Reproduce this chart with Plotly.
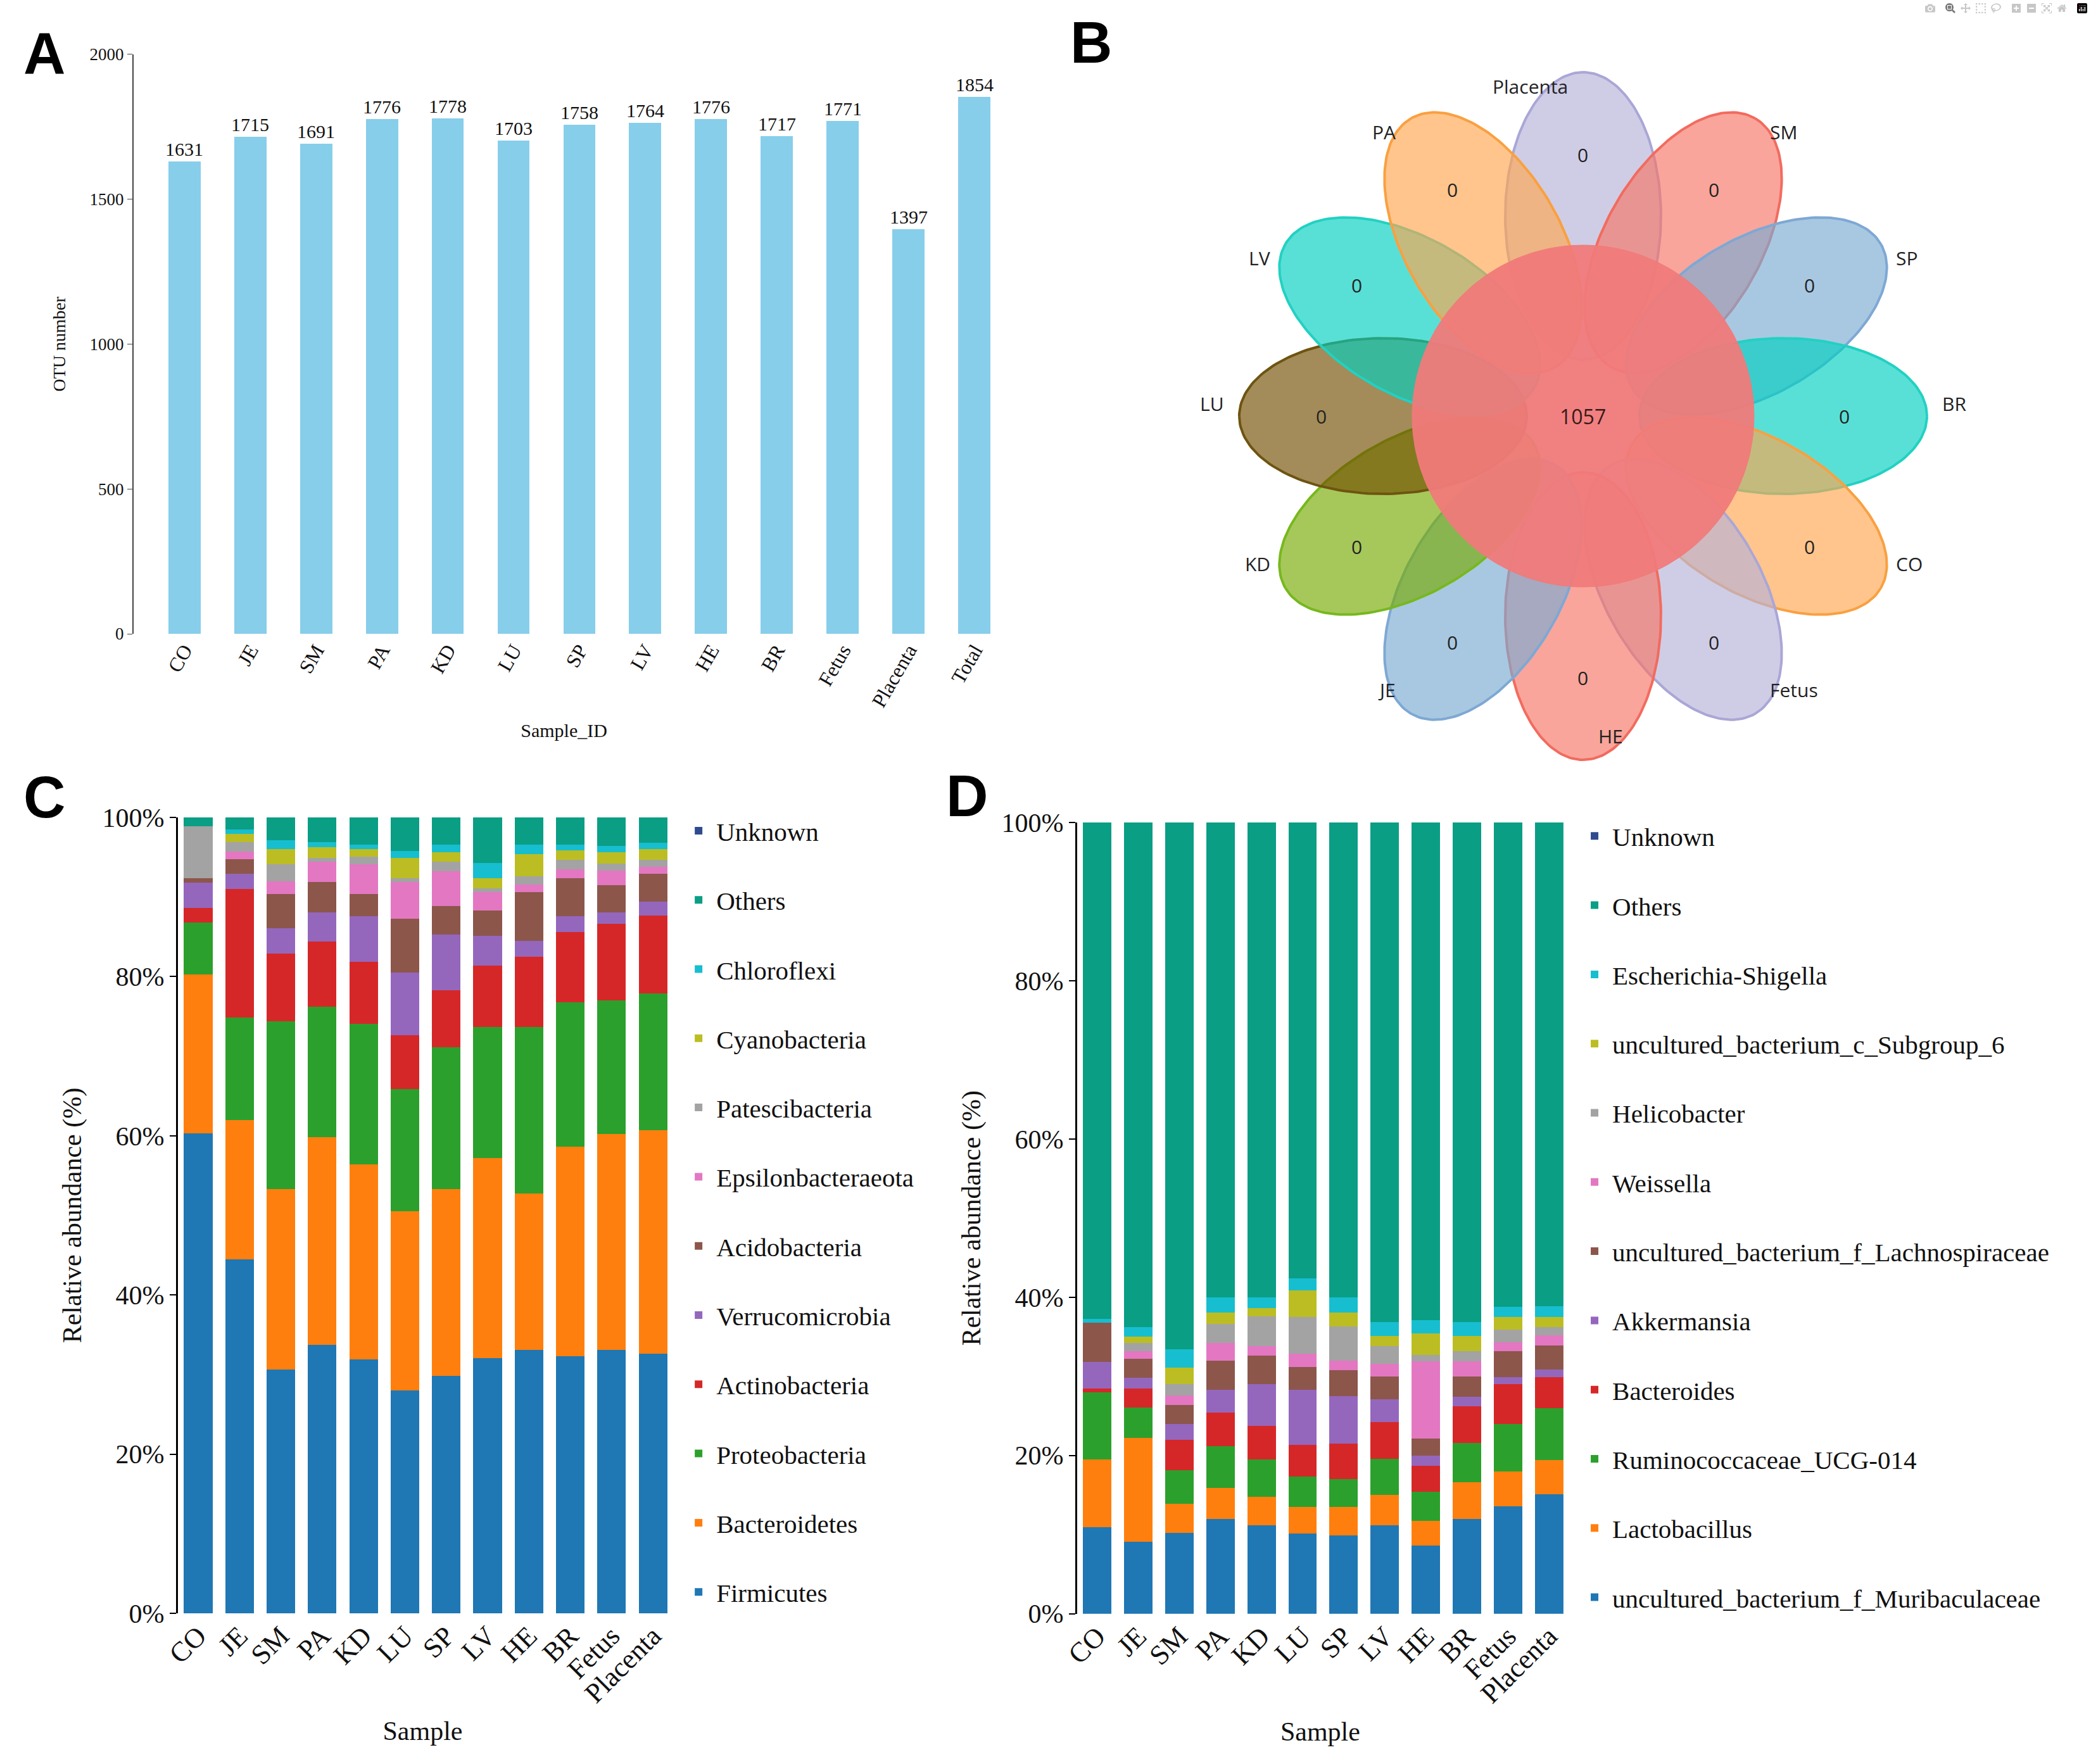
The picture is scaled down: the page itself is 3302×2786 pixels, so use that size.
import math
import plotly.graph_objects as go

# ---------------- data ----------------
# Panel A: OTU numbers
otu_samples = ["CO", "JE", "SM", "PA", "KD", "LU", "SP", "LV", "HE", "BR", "Fetus", "Placenta", "Total"]
otu_counts = [1631, 1715, 1691, 1776, 1778, 1703, 1758, 1764, 1776, 1717, 1771, 1397, 1854]

# Panel B: flower Venn
venn_groups = ["Placenta", "SM", "SP", "BR", "CO", "Fetus", "HE", "JE", "KD", "LU", "LV", "PA"]
venn_unique = [0, 0, 0, 0, 0, 0, 0, 0, 0, 0, 0, 0]
venn_core = 1057

# Panels C and D: samples
samples = ["CO", "JE", "SM", "PA", "KD", "LU", "SP", "LV", "HE", "BR", "Fetus", "Placenta"]

# Panel C: phylum relative abundance (%), bottom -> top
Firmicutes        = [60.3, 44.5, 30.6, 33.7, 31.9, 28.0, 29.8, 32.1, 33.1, 32.3, 33.1, 32.6]
Bacteroidetes     = [20.0, 17.5, 22.7, 26.1, 24.5, 22.5, 23.5, 25.1, 19.65, 26.3, 27.1, 28.1]
Proteobacteria    = [6.5, 12.9, 21.1, 16.45, 17.7, 15.4, 17.8, 16.5, 20.95, 18.2, 16.8, 17.2]
Actinobacteria    = [1.8, 16.1, 8.5, 8.15, 7.8, 6.7, 7.2, 7.7, 8.8, 8.8, 9.6, 9.8]
Verrucomicrobia   = [3.2, 1.9, 3.2, 3.7, 5.7, 7.9, 6.95, 3.7, 2.0, 2.0, 1.5, 1.7]
Acidobacteria     = [0.6, 1.85, 4.3, 3.8, 2.8, 6.8, 3.65, 3.2, 6.1, 4.8, 3.4, 3.5]
Epsilonbacteraeota = [0.0, 0.95, 1.6, 2.5, 3.7, 4.6, 4.35, 2.3, 1.0, 1.1, 1.8, 0.9]
Patescibacteria   = [6.5, 1.2, 2.1, 0.5, 1.0, 0.5, 1.15, 0.5, 1.0, 1.2, 0.9, 0.9]
Cyanobacteria     = [0.0, 1.0, 1.9, 1.4, 0.9, 2.5, 1.2, 1.3, 2.8, 1.2, 1.4, 1.3]
Chloroflexi       = [0.0, 0.6, 1.1, 0.6, 0.6, 0.9, 1.0, 1.85, 1.2, 0.7, 0.8, 0.8]
Others_phylum     = [1.1, 1.5, 2.9, 3.1, 3.4, 4.2, 3.4, 5.75, 3.4, 3.4, 3.6, 3.2]
Unknown_phylum    = [0, 0, 0, 0, 0, 0, 0, 0, 0, 0, 0, 0]

phylum_names = ["Firmicutes", "Bacteroidetes", "Proteobacteria", "Actinobacteria", "Verrucomicrobia",
                "Acidobacteria", "Epsilonbacteraeota", "Patescibacteria", "Cyanobacteria",
                "Chloroflexi", "Others", "Unknown"]
phylum_values = [Firmicutes, Bacteroidetes, Proteobacteria, Actinobacteria, Verrucomicrobia,
                 Acidobacteria, Epsilonbacteraeota, Patescibacteria, Cyanobacteria,
                 Chloroflexi, Others_phylum, Unknown_phylum]

# Panel D: genus relative abundance (%), bottom -> top
Muribaculaceae   = [10.9, 9.1, 10.2, 12.0, 11.2, 10.1, 9.9, 11.2, 8.6, 12.0, 13.6, 15.1]
Lactobacillus    = [8.6, 13.1, 3.7, 3.9, 3.55, 3.4, 3.6, 3.8, 3.1, 4.65, 4.4, 4.3]
Ruminococcaceae  = [8.5, 3.9, 4.2, 5.3, 4.75, 3.8, 3.5, 4.6, 3.7, 4.95, 6.0, 6.6]
Bacteroides      = [0.5, 2.4, 3.9, 4.2, 4.2, 4.0, 4.5, 4.6, 3.3, 4.6, 5.0, 3.9]
Akkermansia      = [3.3, 1.3, 2.0, 2.9, 5.3, 7.0, 6.0, 2.9, 1.3, 1.2, 0.9, 1.0]
Lachnospiraceae  = [5.0, 2.4, 2.4, 3.7, 3.6, 2.9, 3.3, 2.9, 2.1, 2.6, 3.3, 3.0]
Weissella        = [0.0, 1.0, 1.2, 2.2, 1.2, 1.7, 1.2, 1.6, 9.8, 1.9, 1.1, 1.3]
Helicobacter     = [0.0, 1.0, 1.4, 2.4, 3.8, 4.6, 4.3, 2.2, 0.8, 1.3, 1.6, 1.0]
Subgroup_6       = [0.0, 0.8, 2.1, 1.5, 1.0, 3.4, 1.8, 1.3, 2.7, 1.9, 1.6, 1.3]
Escherichia      = [0.5, 1.2, 2.3, 1.9, 1.4, 1.5, 1.9, 1.8, 1.7, 1.8, 1.3, 1.4]
Others_genus     = [62.7, 63.8, 66.6, 60.0, 60.0, 57.6, 60.0, 63.1, 62.9, 63.1, 61.2, 61.1]
Unknown_genus    = [0, 0, 0, 0, 0, 0, 0, 0, 0, 0, 0, 0]

genus_names = ["uncultured_bacterium_f_Muribaculaceae", "Lactobacillus", "Ruminococcaceae_UCG-014",
               "Bacteroides", "Akkermansia", "uncultured_bacterium_f_Lachnospiraceae", "Weissella",
               "Helicobacter", "uncultured_bacterium_c_Subgroup_6", "Escherichia-Shigella",
               "Others", "Unknown"]
genus_values = [Muribaculaceae, Lactobacillus, Ruminococcaceae, Bacteroides, Akkermansia,
                Lachnospiraceae, Weissella, Helicobacter, Subgroup_6, Escherichia,
                Others_genus, Unknown_genus]

# ---------------- style ----------------
W, H = 3302, 2786
SERIF = "Liberation Serif, Times New Roman, serif"
SANS = "Open Sans, Liberation Sans, sans-serif"
stack_colors = ["#1f77b4", "#ff7f0e", "#2ca02c", "#d62728", "#9467bd", "#8c564b",
                "#e377c2", "#a3a3a3", "#bcbd22", "#17becf", "#0a9e85", "#2f4b8e"]

petal_style = {
    "Placenta": ("rgba(181,178,217,0.65)", "#aaa6d6"),
    "Fetus": ("rgba(181,178,217,0.65)", "#aaa6d6"),
    "SM": ("rgba(246,117,101,0.65)", "#f26b5e"),
    "HE": ("rgba(246,117,101,0.65)", "#f26b5e"),
    "SP": ("rgba(121,171,211,0.65)", "#7ea8d4"),
    "JE": ("rgba(121,171,211,0.65)", "#7ea8d4"),
    "BR": ("rgba(0,208,192,0.65)", "#22d1c2"),
    "LV": ("rgba(0,208,192,0.65)", "#22d1c2"),
    "CO": ("rgba(255,166,78,0.65)", "#f9a040"),
    "PA": ("rgba(255,166,78,0.65)", "#f9a040"),
    "KD": ("rgba(118,171,2,0.65)", "#77b81e"),
    "LU": ("rgba(114,78,0,0.65)", "#6e5410"),
}

fig = go.Figure()

# ---------------- Panel A ----------------
fig.add_trace(go.Bar(
    x=otu_samples, y=otu_counts, marker=dict(color="#87ceeb", line=dict(width=0)),
    width=0.49, text=[str(v) for v in otu_counts], textposition="outside",
    textfont=dict(family=SERIF, size=30, color="#111"), constraintext="none",
    cliponaxis=False, showlegend=False, xaxis="x", yaxis="y", hoverinfo="x+y"))

# ---------------- Panel C ----------------
n_tax = len(phylum_names)
for i, (name, vals, col) in enumerate(zip(phylum_names, phylum_values, stack_colors)):
    fig.add_trace(go.Bar(
        x=samples, y=vals, name=name, marker=dict(color=col, line=dict(width=0)),
        width=0.69, xaxis="x2", yaxis="y2", legend="legend", legendgroup="c_" + name,
        legendrank=100 + n_tax - i))

# ---------------- Panel D ----------------
for i, (name, vals, col) in enumerate(zip(genus_names, genus_values, stack_colors)):
    fig.add_trace(go.Bar(
        x=samples, y=vals, name=name, marker=dict(color=col, line=dict(width=0)),
        width=0.69, xaxis="x3", yaxis="y3", legend="legend2", legendgroup="d_" + name,
        legendrank=100 + n_tax - i))

# ---------------- Panel B (flower Venn) ----------------
PETAL_D, PETAL_A, PETAL_B = 316, 227, 123
CORE_R = 270
NUM_R = 413
TIP_R = PETAL_D + PETAL_A
n = len(venn_groups)
ts = [2 * math.pi * k / 180 for k in range(181)]
annotations = []
for i, (g, cnt) in enumerate(zip(venn_groups, venn_unique)):
    th = math.radians(90 - 360 / n * i)
    c, s = math.cos(th), math.sin(th)
    cx, cy = PETAL_D * c, PETAL_D * s
    xs = [cx + PETAL_A * math.cos(t) * c - PETAL_B * math.sin(t) * s for t in ts]
    ys = [cy + PETAL_A * math.cos(t) * s + PETAL_B * math.sin(t) * c for t in ts]
    fillc, linec = petal_style[g]
    fig.add_trace(go.Scatter(x=xs, y=ys, mode="lines", fill="toself", fillcolor=fillc,
                             line=dict(color=linec, width=4), xaxis="x4", yaxis="y4",
                             showlegend=False, hoverinfo="text", text=g))
    annotations.append(dict(x=NUM_R * c, y=NUM_R * s, xref="x4", yref="y4",
                            text=str(cnt), showarrow=False, font=dict(family=SANS, size=30, color="#222")))
    # group label beside the petal tip, on its outer side
    if c > 0.01 or (abs(c) <= 0.01 and s < 0):
        side, xanc = 1, "left"
    else:
        side, xanc = -1, "right"
    dy = -22 if s > 0.1 else (38 if s < -0.1 else 20)
    annotations.append(dict(x=TIP_R * c + side * 22, y=TIP_R * s + dy, xref="x4", yref="y4", text=g,
                            showarrow=False, xanchor=xanc, yanchor="middle",
                            font=dict(family=SANS, size=30, color="#222")))

cxs = [CORE_R * math.cos(t) for t in ts]
cys = [CORE_R * math.sin(t) for t in ts]
fig.add_trace(go.Scatter(x=cxs, y=cys, mode="lines", fill="toself", fillcolor="rgba(240,122,122,0.95)",
                         line=dict(color="rgba(240,122,122,0.95)", width=1), xaxis="x4", yaxis="y4",
                         showlegend=False, hoverinfo="text", text="core"))
annotations.append(dict(x=0, y=0, xref="x4", yref="y4", text=str(venn_core), showarrow=False,
                        font=dict(family=SANS, size=32, color="#3a1a1a")))

# panel letters
for letter, px, py in [("A", 70, 84), ("B", 1723, 67), ("C", 70, 1259), ("D", 1527, 1257)]:
    annotations.append(dict(x=px / W, y=1 - py / H, xref="paper", yref="paper", text="<b>%s</b>" % letter,
                            showarrow=False, font=dict(family="Liberation Sans, Arial, sans-serif", size=92, color="#000"),
                            xanchor="center", yanchor="middle"))

pct_ticks = [0, 20, 40, 60, 80, 100]
pct_text = ["%d%%" % v for v in pct_ticks]

common_x = dict(showline=False, ticks="", showgrid=False, zeroline=False, automargin=False)

fig.update_layout(
    width=W, height=H, margin=dict(l=0, r=0, t=0, b=0),
    paper_bgcolor="white", plot_bgcolor="white", barmode="stack",
    font=dict(family=SERIF, color="#111"),
    annotations=annotations,
    # Panel A
    xaxis=dict(domain=[0.0639, 0.4755], range=[-0.77, 12.3], tickangle=-60, anchor="y",
               tickfont=dict(family=SERIF, size=32),
               title=dict(text="Sample_ID", font=dict(family=SERIF, size=30), standoff=20), **common_x),
    yaxis=dict(domain=[0.6407, 0.9692], range=[0, 2000], tickvals=[0, 500, 1000, 1500, 2000], anchor="x",
               showline=True, linecolor="#444", linewidth=2, ticks="outside", ticklen=8, tickcolor="#444",
               tickfont=dict(family=SERIF, size=27), showgrid=False, zeroline=False, automargin=False,
               title=dict(text="OTU number", font=dict(family=SERIF, size=28), standoff=30)),
    # Panel C
    xaxis2=dict(domain=[0.0851, 0.3192], range=[-0.49, 11.35], tickangle=-45, anchor="y2",
                tickfont=dict(family=SERIF, size=44),
                title=dict(text="Sample", font=dict(family=SERIF, size=42), standoff=20), **common_x),
    yaxis2=dict(domain=[0.0854, 0.5366], range=[0, 100], tickvals=pct_ticks, ticktext=pct_text, anchor="x2",
                showline=True, linecolor="#000", linewidth=3, ticks="outside", ticklen=10, tickcolor="#000",
                tickwidth=2, tickfont=dict(family=SERIF, size=42), showgrid=False, zeroline=False,
                automargin=False,
                title=dict(text="Relative abundance (%)", font=dict(family=SERIF, size=42), standoff=20)),
    # Panel D
    xaxis3=dict(domain=[0.5151, 0.7477], range=[-0.49, 11.35], tickangle=-45, anchor="y3",
                tickfont=dict(family=SERIF, size=44),
                title=dict(text="Sample", font=dict(family=SERIF, size=42), standoff=20), **common_x),
    yaxis3=dict(domain=[0.0852, 0.5337], range=[0, 100], tickvals=pct_ticks, ticktext=pct_text, anchor="x3",
                showline=True, linecolor="#000", linewidth=3, ticks="outside", ticklen=10, tickcolor="#000",
                tickwidth=2, tickfont=dict(family=SERIF, size=42), showgrid=False, zeroline=False,
                automargin=False,
                title=dict(text="Relative abundance (%)", font=dict(family=SERIF, size=42), standoff=20)),
    # Panel B
    xaxis4=dict(domain=[0.5451, 0.9691], range=[-700, 700], visible=False, anchor="y4"),
    yaxis4=dict(domain=[0.5488, 0.9795], range=[-600, 600], visible=False, anchor="x4"),
    legend=dict(x=0.3256, y=0.541, xanchor="left", yanchor="top", traceorder="grouped",
                tracegroupgap=53, itemwidth=46, font=dict(family=SERIF, size=41, color="#111"),
                bgcolor="rgba(0,0,0,0)", itemclick=False, itemdoubleclick=False),
    legend2=dict(x=0.7541, y=0.538, xanchor="left", yanchor="top", traceorder="grouped",
                 tracegroupgap=53, itemwidth=46, font=dict(family=SERIF, size=41, color="#111"),
                 bgcolor="rgba(0,0,0,0)", itemclick=False, itemdoubleclick=False),
    hovermode="closest",
)

fig.write_html("out.html", post_script="document.body.style.margin='0';")
